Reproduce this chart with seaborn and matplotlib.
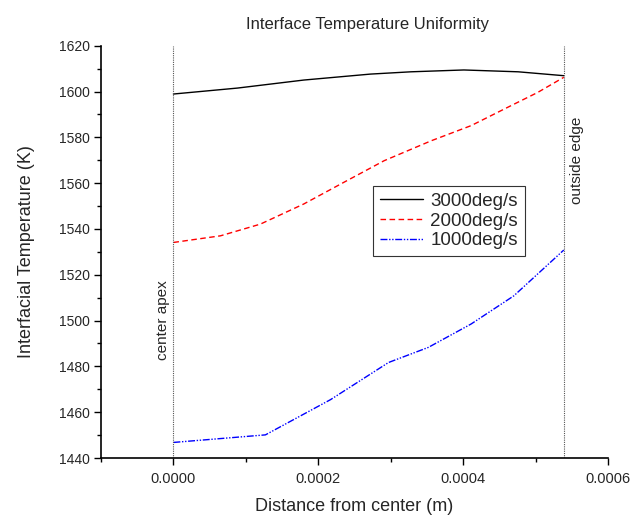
import numpy as np
import matplotlib
matplotlib.use("Agg")
import matplotlib.pyplot as plt
from matplotlib.ticker import MultipleLocator, FormatStrFormatter
import seaborn as sns
import pandas as pd

# distance from center (m) and interface temperature (K) per heating rate
x_3000 = [0.0, 0.0000885, 0.00018, 0.000272, 0.000328, 0.000401, 0.000476, 0.000539]
t_3000 = [1598.9, 1601.5, 1605.0, 1607.6, 1608.6, 1609.4, 1608.6, 1606.9]

x_2000 = [0.0, 0.000065, 0.00012, 0.00018, 0.000235, 0.000291, 0.000356,
          0.000411, 0.000466, 0.000503, 0.000539]
t_2000 = [1534.1, 1537.0, 1542.1, 1550.9, 1560.3, 1569.8, 1578.5,
          1585.1, 1593.8, 1599.6, 1606.2]

x_1000 = [0.0, 0.000127, 0.000217, 0.000297, 0.000352, 0.000411, 0.00047, 0.000539]
t_1000 = [1446.8, 1450.1, 1465.5, 1481.7, 1488.3, 1498.5, 1510.8, 1530.8]

SERIES = ["3000deg/s", "2000deg/s", "1000deg/s"]
EDGE_X = 0.000539

frames = []
for name, xs, ts in zip(SERIES, [x_3000, x_2000, x_1000], [t_3000, t_2000, t_1000]):
    frames.append(pd.DataFrame({"distance": xs, "temp": ts, "rate": name}))
df = pd.concat(frames, ignore_index=True)

sns.set_style("ticks")
plt.rcParams['font.family'] = ['Liberation Sans', 'DejaVu Sans']

fig = plt.figure(figsize=(6.32, 5.18), dpi=100)
ax = fig.add_axes([0.1598, 0.1158, 0.8022, 0.796])

sns.lineplot(
    data=df, x="distance", y="temp",
    hue="rate", hue_order=SERIES,
    style="rate", style_order=SERIES,
    palette={"3000deg/s": "black", "2000deg/s": "#ff0000", "1000deg/s": "#0000ff"},
    dashes={"3000deg/s": "", "2000deg/s": (4, 2.5), "1000deg/s": (5, 1.2, 1, 1.2, 1, 1.2)},
    sort=False, estimator=None, linewidth=1.0, ax=ax,
)

# reference lines for center apex and outside edge
for xv in [0.0, EDGE_X]:
    ax.axvline(xv, color="#555555", linestyle=(0, (1, 1)), linewidth=0.8)
ax.text(-0.000005, 1500, "center apex", rotation=90, ha="right", va="center", fontsize=11)
ax.text(EDGE_X + 0.000009, 1570, "outside edge", rotation=90, ha="left", va="center", fontsize=11)

ax.set_xlim(-0.0001, 0.0006)
ax.set_ylim(1440, 1620)
ax.xaxis.set_major_locator(MultipleLocator(0.0002))
ax.xaxis.set_minor_locator(MultipleLocator(0.0001))
ax.xaxis.set_major_formatter(FormatStrFormatter("%.4f"))
ax.yaxis.set_major_locator(MultipleLocator(20))
ax.yaxis.set_minor_locator(MultipleLocator(10))
ax.tick_params(which="major", direction="out", length=5, width=1, color="black")
ax.tick_params(which="minor", direction="out", length=3, width=1, color="black")
ax.tick_params(axis="x", labelsize=10.5, pad=5)
ax.tick_params(axis="y", labelsize=10, pad=3)

sns.despine(ax=ax)
for sp in ["left", "bottom"]:
    ax.spines[sp].set_linewidth(1.2)
    ax.spines[sp].set_color("black")

ax.set_xlabel("Distance from center (m)", fontsize=13, labelpad=9)
ax.set_ylabel("Interfacial Temperature (K)", fontsize=13, labelpad=17)
ax.set_title("Interface Temperature Uniformity", fontsize=12, x=0.526, pad=12)

leg = ax.legend(loc="upper left", bbox_to_anchor=(0.537, 0.66), borderaxespad=0,
                fontsize=13.5, fancybox=False, framealpha=1, edgecolor="#333333",
                handlelength=2.3, borderpad=0.35, labelspacing=0.15, handletextpad=0.4)
leg.get_frame().set_linewidth(0.8)

fig.savefig("out.png", dpi=100)
plt.close()
